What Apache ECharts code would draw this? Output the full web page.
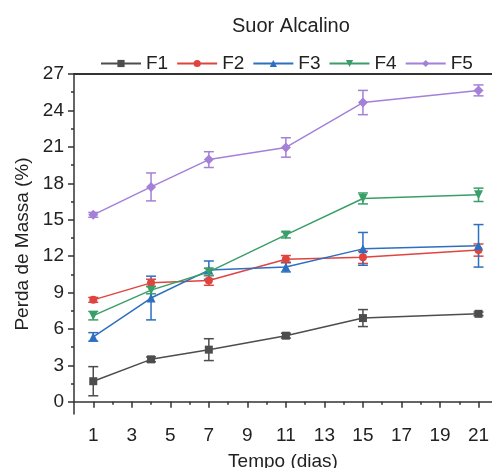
<!DOCTYPE html>
<html>
<head>
<meta charset="utf-8">
<script src="https://cdn.jsdelivr.net/npm/echarts@6/dist/echarts.min.js"></script>
<style>
  html, body { margin: 0; padding: 0; background: #fff; }
  #chart { width: 492px; height: 468px; }
</style>
</head>
<body>
<div id="chart"></div>
<script>
// tempo (dias)
const days = [1, 4, 7, 11, 15, 21];
const seriesNames = ["F1", "F2", "F3", "F4", "F5"];

// perda de massa (%) e desvio
const f1 = [1.7, 3.5, 4.3, 5.45, 6.9, 7.25];
const f1Err = [1.2, 0.2, 0.9, 0.2, 0.7, 0.15];
const f2 = [8.4, 9.8, 10.0, 11.75, 11.9, 12.5];
const f2Err = [0.2, 0.3, 0.4, 0.3, 0.5, 0.5];
const f3 = [5.35, 8.55, 10.85, 11.1, 12.6, 12.85];
const f3Err = [0.35, 1.8, 0.75, 0.4, 1.35, 1.75];
const f4 = [7.1, 9.2, 10.7, 13.75, 16.75, 17.05];
const f4Err = [0.35, 0.3, 0.3, 0.25, 0.45, 0.55];
const f5 = [15.4, 17.7, 19.95, 20.95, 24.65, 25.65];
const f5Err = [0.2, 1.15, 0.65, 0.8, 1.0, 0.45];

const yTicks = [0, 3, 6, 9, 12, 15, 18, 21, 24, 27];
const yMinorTicks = [1.5, 4.5, 7.5, 10.5, 13.5, 16.5, 19.5, 22.5, 25.5];
const xTicks = [1, 3, 5, 7, 9, 11, 13, 15, 17, 19, 21];
const xMinorTicks = [2, 4, 6, 8, 10, 12, 14, 16, 18, 20];

const values = [f1, f2, f3, f4, f5];
const errors = [f1Err, f2Err, f3Err, f4Err, f5Err];
const colors = ["#4d4d4d", "#e0443f", "#2d6fc0", "#3a9e68", "#a480d8"];
const symbols = ["rect", "circle", "triangle", "path://M0,0L10,0L5,9Z", "diamond"];
const symbolSizes = [8, 8, 9, 9, 10];

const chart = echarts.init(document.getElementById("chart"));

const font = "Liberation Sans, Arial, sans-serif";
const axisColor = "#333";

const series = [];
seriesNames.forEach((name, i) => {
  series.push({
    name: name,
    type: "line",
    data: days.map((d, k) => [d, values[i][k]]),
    symbol: symbols[i],
    symbolSize: symbolSizes[i],
    showAllSymbol: true,
    itemStyle: { color: colors[i] },
    lineStyle: { color: colors[i], width: 1.5 },
    z: 3,
    animation: false,
  });
  series.push({
    name: name,
    type: "custom",
    data: days.map((d, k) => [d, values[i][k] - errors[i][k], values[i][k] + errors[i][k]]),
    renderItem: (params, api) => {
      const lo = api.coord([api.value(0), api.value(1)]);
      const hi = api.coord([api.value(0), api.value(2)]);
      const w = 5;
      const style = { stroke: colors[i], lineWidth: 1.5 };
      return {
        type: "group",
        children: [
          { type: "line", shape: { x1: lo[0], y1: lo[1], x2: hi[0], y2: hi[1] }, style: style },
          { type: "line", shape: { x1: lo[0] - w, y1: lo[1], x2: lo[0] + w, y2: lo[1] }, style: style },
          { type: "line", shape: { x1: hi[0] - w, y1: hi[1], x2: hi[0] + w, y2: hi[1] }, style: style },
        ],
      };
    },
    z: 2,
    animation: false,
  });
});

chart.setOption({
  animation: false,
  title: {
    text: "Suor Alcalino",
    left: 227,
    top: 11,
    textStyle: { fontFamily: font, fontSize: 20, fontWeight: "normal", color: "#222" },
  },
  legend: {
    data: seriesNames,
    left: 95,
    top: 49,
    itemWidth: 40,
    itemHeight: 9,
    itemGap: 8,
    textStyle: { fontFamily: font, fontSize: 19, color: "#222" },
  },
  grid: { left: 74, top: 74, right: 0, bottom: 54, containLabel: false, outerBoundsMode: "none" },
  xAxis: [
    {
      type: "value",
      min: 0,
      max: 21.7,
      position: "bottom",
      name: "Tempo (dias)",
      nameLocation: "middle",
      nameGap: 38,
      nameTextStyle: { fontFamily: font, fontSize: 19, color: "#222" },
      axisLine: { lineStyle: { color: axisColor, width: 1.5 } },
      axisTick: { customValues: xTicks, length: 6, lineStyle: { color: axisColor, width: 1.5 } },
      axisLabel: { customValues: xTicks, margin: 12, fontFamily: font, fontSize: 19, color: "#222" },
      splitLine: { show: false },
    },
    {
      type: "value",
      min: 0,
      max: 21.7,
      position: "bottom",
      axisLine: { show: false },
      axisTick: { customValues: xMinorTicks, length: 3, lineStyle: { color: axisColor, width: 1.5 } },
      axisLabel: { show: false },
      splitLine: { show: false },
    },
    {
      type: "value",
      min: 0,
      max: 21.7,
      position: "top",
      axisLine: { lineStyle: { color: axisColor, width: 2 } },
      axisTick: { show: false },
      axisLabel: { show: false },
      splitLine: { show: false },
    },
  ],
  yAxis: [
    {
      type: "value",
      min: -1,
      max: 27,
      position: "left",
      name: "Perda de Massa (%)",
      nameLocation: "middle",
      nameGap: 42,
      nameTextStyle: { fontFamily: font, fontSize: 19, color: "#222" },
      axisLine: { lineStyle: { color: axisColor, width: 1.5 } },
      axisTick: { customValues: yTicks, length: 6, lineStyle: { color: axisColor, width: 1.5 } },
      axisLabel: { customValues: yTicks, margin: 10, fontFamily: font, fontSize: 19, color: "#222" },
      splitLine: { show: false },
    },
    {
      type: "value",
      min: -1,
      max: 27,
      position: "left",
      axisLine: { show: false },
      axisTick: { customValues: yMinorTicks, length: 3, lineStyle: { color: axisColor, width: 1.5 } },
      axisLabel: { show: false },
      splitLine: { show: false },
    },
  ],
  series: series,
});

window.onresize = function () {
  chart.resize();
};
</script>
</body>
</html>
